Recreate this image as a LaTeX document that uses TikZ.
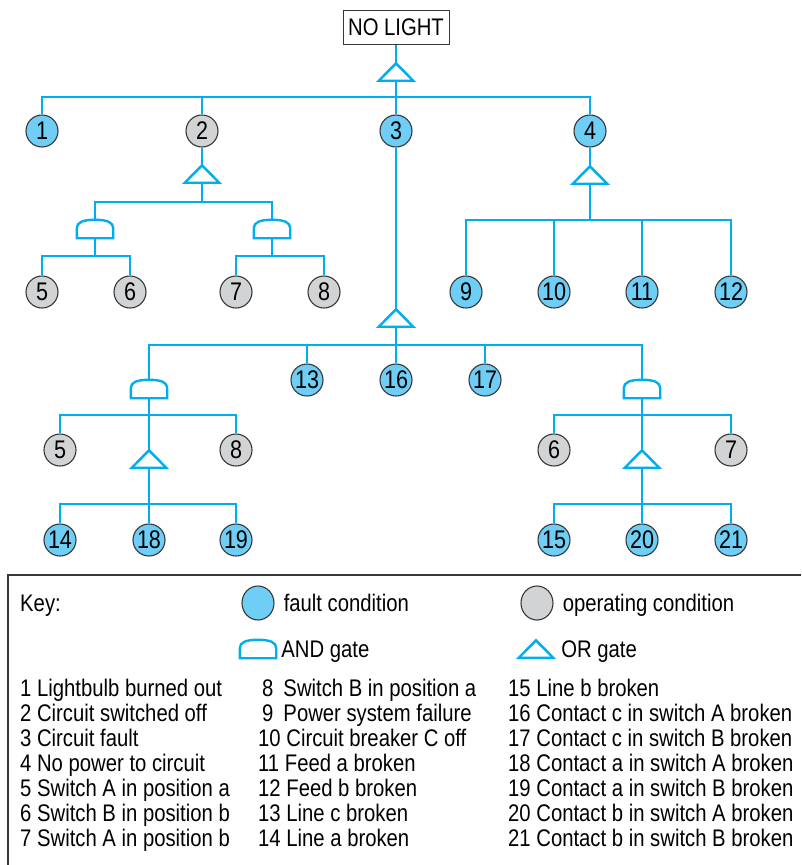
\documentclass[tikz,border=0pt]{standalone}
\usepackage{fontspec}
\setmainfont[FakeStretch=0.845]{Liberation Sans}
\usetikzlibrary{positioning,shapes.geometric}
\definecolor{lineblue}{RGB}{0,174,239}
\definecolor{faultfill}{RGB}{110,206,245}
\definecolor{opfill}{RGB}{210,211,213}
\definecolor{edge}{RGB}{55,55,55}

\begin{document}
\begin{tikzpicture}[x=1pt,y=-1pt,
    every node/.style={font=\fontsize{24}{25}\selectfont},
    link/.style={lineblue,line width=2.4pt},
    fault/.style={circle,draw=edge,line width=1.1pt,fill=faultfill,minimum size=32pt,inner sep=0pt,
        font=\fontsize{25.5}{25}\selectfont},
    oper/.style={fault,fill=opfill},
    orgate/.style={inner sep=0pt,minimum width=34pt,minimum height=17pt,
        append after command={\pgfextra{\draw[link,fill=white,line join=miter]
            (\tikzlastnode.south west)--(\tikzlastnode.north)--(\tikzlastnode.south east)--cycle;}}},
    andgate/.style={inner sep=0pt,minimum width=36pt,minimum height=18pt,
        append after command={\pgfextra{\draw[link,fill=white]
            (\tikzlastnode.south west)--([yshift=10pt]\tikzlastnode.south west)
            .. controls +(0pt,6pt) and +(-12pt,0pt) .. (\tikzlastnode.north)
            .. controls +(12pt,0pt) and +(0pt,6pt) .. ([yshift=10pt]\tikzlastnode.south east)
            --(\tikzlastnode.south east)--cycle;}}},
    keytext/.style={anchor=west,inner sep=0pt,text height=17pt,text depth=0pt}]
    \useasboundingbox (0,0) rectangle (801,865);

    % top event
    \node[draw=edge,line width=1pt,minimum width=106pt,minimum height=34pt,inner sep=0pt] (top) at (396,27) {NO LIGHT};
    \node[orgate] (g0) at (396,72) {};
    \node[fault] (c1) at (42,131) {1};
    \node[oper] (c2) at (202,131) {2};
    \node[fault] (c3) at (396,131) {3};
    \node[fault] (c4) at (590,131) {4};
    \coordinate (b0) at (396,97);
    \draw[link] (top) -- (g0);
    \draw[link] (g0) -- (c3);
    \draw[link] (c1) |- (b0) -| (c4);
    \draw[link] (c2) -- (c2 |- b0);

    % circuit switched off
    \node[orgate] (g2) at (202,174) {};
    \node[andgate] (a1) at (95,229) {};
    \node[andgate] (a2) at (272,229) {};
    \coordinate (b2) at (202,202);
    \draw[link] (c2) -- (g2);
    \draw[link] (g2) -- (b2);
    \draw[link] (a1) |- (b2) -| (a2);
    \node[oper] (c5) at (42,292) {5};
    \node[oper] (c6) at (130,292) {6};
    \node[oper] (c7) at (236,292) {7};
    \node[oper] (c8) at (324,292) {8};
    \coordinate (b21) at (95,256);
    \coordinate (b22) at (272,256);
    \draw[link] (a1) -- (b21);
    \draw[link] (c5) |- (b21) -| (c6);
    \draw[link] (a2) -- (b22);
    \draw[link] (c7) |- (b22) -| (c8);

    % no power to circuit
    \node[orgate] (g4) at (590,175) {};
    \coordinate (b4) at (590,220);
    \node[fault] (c9) at (466,292) {9};
    \node[fault] (c10) at (554,292) {10};
    \node[fault] (c11) at (642,292) {11};
    \node[fault] (c12) at (731,292) {12};
    \draw[link] (c4) -- (g4);
    \draw[link] (g4) -- (b4);
    \draw[link] (c9) |- (b4) -| (c12);
    \draw[link] (c10) -- (c10 |- b4);
    \draw[link] (c11) -- (c11 |- b4);

    % circuit fault
    \node[orgate] (g3) at (396,318) {};
    \coordinate (b3) at (396,345);
    \node[andgate] (a3) at (149,389) {};
    \node[andgate] (a4) at (642,389) {};
    \node[fault] (c13) at (307,380) {13};
    \node[fault] (c16) at (396,380) {16};
    \node[fault] (c17) at (485,380) {17};
    \draw[link] (c3) -- (g3);
    \draw[link] (g3) -- (c16);
    \draw[link] (a3) |- (b3) -| (a4);
    \draw[link] (c13) -- (c13 |- b3);
    \draw[link] (c17) -- (c17 |- b3);

    % left branch
    \coordinate (b5) at (149,415);
    \coordinate (b6) at (149,504);
    \node[oper] (c5b) at (60,450) {5};
    \node[oper] (c8b) at (236,450) {8};
    \node[orgate] (g5) at (149,459) {};
    \node[fault] (c14) at (60,540) {14};
    \node[fault] (c18) at (149,540) {18};
    \node[fault] (c19) at (236,540) {19};
    \draw[link] (a3) -- (g5);
    \draw[link] (c5b) |- (b5) -| (c8b);
    \draw[link] (g5) -- (c18);
    \draw[link] (c14) |- (b6) -| (c19);

    % right branch
    \coordinate (b7) at (642,415);
    \coordinate (b8) at (642,504);
    \node[oper] (c6b) at (554,450) {6};
    \node[oper] (c7b) at (731,450) {7};
    \node[orgate] (g6) at (642,459) {};
    \node[fault] (c15) at (554,540) {15};
    \node[fault] (c20) at (642,540) {20};
    \node[fault] (c21) at (731,540) {21};
    \draw[link] (a4) -- (g6);
    \draw[link] (c6b) |- (b7) -| (c7b);
    \draw[link] (g6) -- (c20);
    \draw[link] (c15) |- (b8) -| (c21);

    % key
    \draw[edge,line width=1.2pt] (801,575) -- (8,575) -- (8,865);
    \node[keytext] (key) at (20,603) {Key:};
    \node[fault,ellipse,minimum width=32pt,minimum height=34pt] (kf) at (258,603) {};
    \node[keytext,right=9pt of kf] (kft) {fault condition};
    \node[oper,ellipse,minimum width=32pt,minimum height=34pt] (ko) at (537,603) {};
    \node[keytext,right=9pt of ko] (kot) {operating condition};
    \node[andgate] (ka) at (258,649) {};
    \node[keytext,right=5pt of ka] (kat) {AND gate};
    \node[orgate] (kr) at (536,649) {};
    \node[keytext,right=8pt of kr] (krt) {OR gate};

    \foreach \t [count=\i from 0] in {1 Lightbulb burned out, 2 Circuit switched off, 3 Circuit fault,
        4 No power to circuit, 5 Switch A in position a, 6 Switch B in position b, 7 Switch A in position b}
        \node[keytext] at (20,{688+25*\i}) {\t};
    \foreach \t [count=\i from 0] in {\kern4pt 8\kern10pt Switch B in position a, \kern4pt 9\kern10pt Power system failure,
        10 Circuit breaker C off, 11 Feed a broken, 12 Feed b broken, 13 Line c broken, 14 Line a broken}
        \node[keytext] at (258,{688+25*\i}) {\t};
    \foreach \t [count=\i from 0] in {15 Line b broken, 16 Contact c in switch A broken, 17 Contact c in switch B broken,
        18 Contact a in switch A broken, 19 Contact a in switch B broken, 20 Contact b in switch A broken,
        21 Contact b in switch B broken}
        \node[keytext] at (508,{688+25*\i}) {\t};
\end{tikzpicture}
\end{document}
